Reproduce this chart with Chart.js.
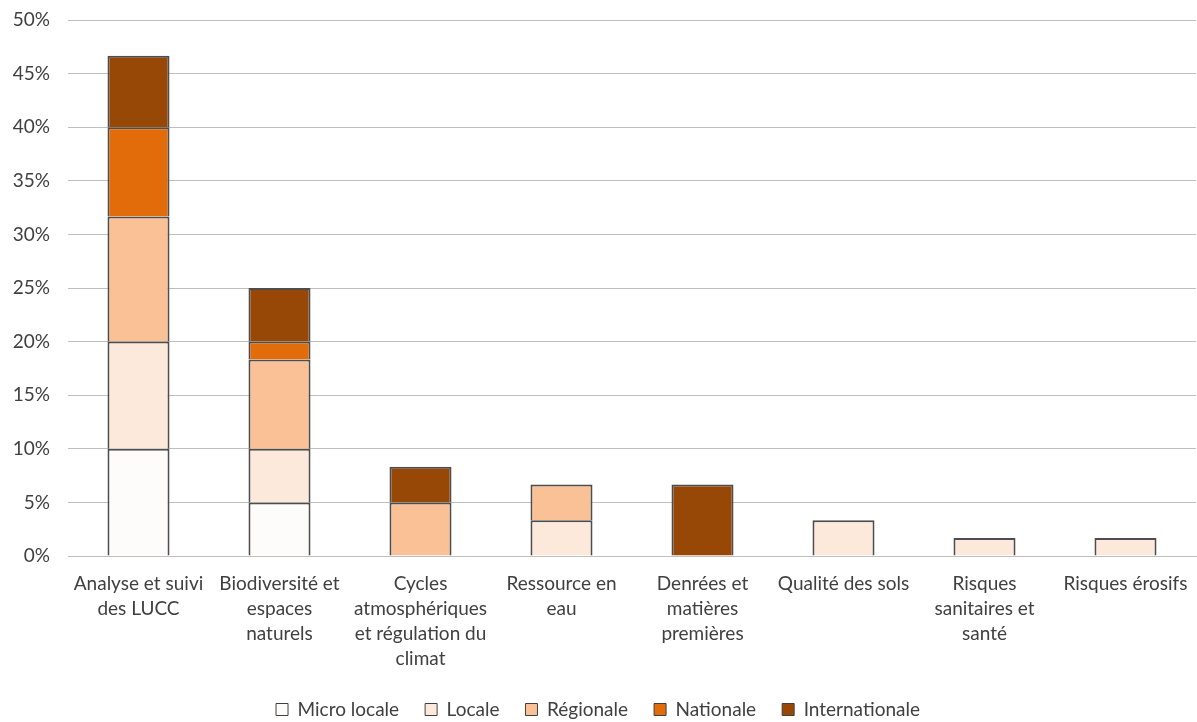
<!DOCTYPE html>
<html>
<head>
<meta charset="utf-8">
<script src="https://cdn.jsdelivr.net/npm/chart.js@4.4.1/dist/chart.umd.min.js"></script>
<style>
html,body{margin:0;padding:0;background:#fff;}
#wrap{width:1197px;height:722px;position:relative;}
</style>
</head>
<body>
<div id="wrap"><canvas id="c"></canvas></div>
<script>
const categories = [
  ["Analyse et suivi", "des LUCC"],
  ["Biodiversité et", "espaces", "naturels"],
  ["Cycles", "atmosphériques", "et régulation du", "climat"],
  ["Ressource en", "eau"],
  ["Denrées et", "matières", "premières"],
  ["Qualité des sols"],
  ["Risques", "sanitaires et", "santé"],
  ["Risques érosifs"]
];
const seriesNames = ["Micro locale", "Locale", "Régionale", "Nationale", "Internationale"];
const microLocale    = [10, 5, 0, 0, 0, 0, 0, 0];
const locale         = [10, 5, 0, 3.33, 0, 3.33, 1.67, 1.67];
const regionale      = [11.67, 8.33, 5, 3.33, 0, 0, 0, 0];
const nationale      = [8.33, 1.67, 0, 0, 0, 0, 0, 0];
const internationale = [6.67, 5, 3.33, 0, 6.67, 0, 0, 0];
const yTicks = [0, 5, 10, 15, 20, 25, 30, 35, 40, 45, 50];

const colors = ["#FEFCFA", "#FCE9DB", "#F9C195", "#E36C0A", "#974806"];
const values = [microLocale, locale, regionale, nationale, internationale];

const FONT = "Lato, 'Open Sans', sans-serif";
const datasets = seriesNames.map((n, i) => ({
  label: n,
  data: values[i].map(v => v === 0 ? null : v),
  backgroundColor: colors[i],
  borderColor: "#4D4D4D",
  borderWidth: 2,
  borderSkipped: "start",
  barPercentage: 0.44,
  categoryPercentage: 1.0
}));

const legendFit = {
  id: "legendFit",
  afterInit(chart) {
    const lg = chart.legend;
    if (!lg) return;
    const orig = lg.fit.bind(lg);
    lg.fit = function () { orig(); this.height = 48; };
  }
};

new Chart(document.getElementById("c"), {
  type: "bar",
  data: { labels: categories, datasets },
  plugins: [legendFit],
  options: {
    responsive: true,
    maintainAspectRatio: false,
    animation: false,
    layout: { padding: { top: 20, right: 1, left: 0, bottom: 0 } },
    plugins: {
      legend: {
        position: "bottom",
        labels: {
          font: { family: FONT, size: 19 },
          color: "#404040",
          boxWidth: 12,
          boxHeight: 12,
          padding: 26,
          generateLabels(chart) {
            return chart.data.datasets.map((d, i) => ({
              text: d.label,
              fillStyle: d.backgroundColor,
              strokeStyle: "#404040",
              lineWidth: 1,
              datasetIndex: i,
              fontColor: "#404040"
            }));
          }
        }
      },
      tooltip: { enabled: false }
    },
    scales: {
      x: {
        stacked: true,
        grid: { display: false },
        border: { display: true, color: "#BFBFBF", width: 1 },
        ticks: {
          font: { family: FONT, size: 19, lineHeight: 1.3 },
          color: "#404040",
          maxRotation: 0,
          autoSkip: false,
          padding: 8
        },
        afterFit(scale) { scale.height = 118; scale.paddingLeft = 0; scale.paddingRight = 0; }
      },
      y: {
        stacked: true,
        min: 0,
        max: 50,
        afterBuildTicks(scale) { scale.ticks = yTicks.map(v => ({ value: v })); },
        grid: { color: "#BFBFBF", lineWidth: 1, drawTicks: false },
        border: { display: false },
        ticks: {
          font: { family: FONT, size: 19 },
          color: "#404040",
          padding: 18,
          callback: v => v + "%"
        },
        afterFit(scale) { scale.width = 68; scale.paddingTop = 0; scale.paddingBottom = 0; }
      }
    }
  }
});
</script>
</body>
</html>
